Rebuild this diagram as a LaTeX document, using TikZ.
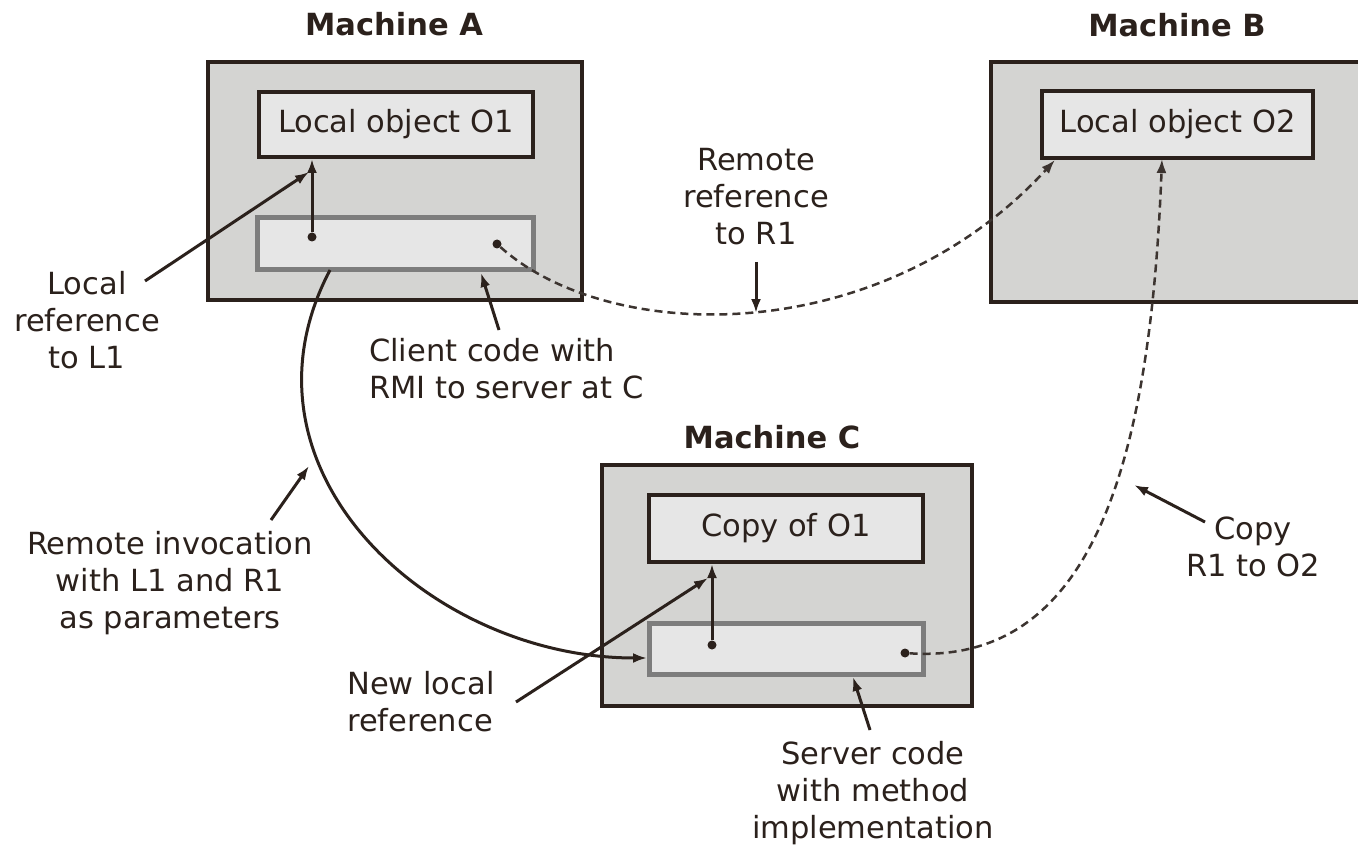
\documentclass[tikz,border=0pt]{standalone}
\usepackage{fontspec}
\setmainfont{DejaVu Sans}
\usetikzlibrary{arrows.meta}

\definecolor{ink}{RGB}{43,33,28}
\definecolor{dashink}{RGB}{60,52,48}
\definecolor{outerfill}{RGB}{212,212,210}
\definecolor{innerfill}{RGB}{230,230,230}
\definecolor{codeedge}{RGB}{125,125,125}

\tikzset{
  lbl/.style={font=\fontsize{30.5}{37}\selectfont, text=ink, align=center, inner sep=0pt},
  title/.style={font=\bfseries\fontsize{30.5}{37}\selectfont, text=ink, inner sep=0pt},
  machine/.style={draw=ink, line width=4pt, fill=outerfill, inner sep=0pt},
  objbox/.style={draw=ink, line width=4pt, fill=innerfill, inner sep=0pt,
    font=\fontsize{30.5}{37}\selectfont, text=ink},
  codebox/.style={draw=codeedge, line width=5pt, fill=innerfill, inner sep=0pt},
  link/.style={draw=ink, line width=3pt, -{Latex[length=14pt,width=10pt]}},
  remote/.style={draw=dashink, line width=2.5pt, dash pattern=on 8pt off 5pt,
    -{Latex[length=14pt,width=10pt]}},
  dot/.style={circle, fill=ink, inner sep=0pt, minimum size=9pt},
}

\begin{document}
\begin{tikzpicture}[x=1pt,y=-1pt]
\useasboundingbox (0,0) rectangle (1358,845);
\fill[white] (0,0) rectangle (1358,845);
\clip (0,0) rectangle (1358,845);

% machines
\node[machine, minimum width=374pt, minimum height=238pt] (mA) at (395,181) {};
\node[machine, minimum width=440pt, minimum height=240pt] (mB) at (1211,182) {};
\node[machine, minimum width=370pt, minimum height=241pt] (mC) at (787,585.5) {};

% titles
\node[title] (tA) at (394,24) {Machine A};
\node[title] (tB) at (1177,25) {Machine B};
\node[title] (tC) at (772,437) {Machine C};

% objects
\node[objbox, minimum width=274pt, minimum height=65pt] (o1) at (396,124.5) {Local object O1};
\node[objbox, minimum width=271pt, minimum height=67pt] (o2) at (1177.5,124.5) {Local object O2};
\node[objbox, minimum width=274pt, minimum height=67pt] (c1) at (786,528.5) {Copy of O1};

% code blocks
\node[codebox, minimum width=276pt, minimum height=52pt] (cA) at (395,244) {};
\node[codebox, minimum width=274pt, minimum height=51pt] (cC) at (786,648.5) {};

% reference holders
\node[dot] (dA) at (312,237) {};
\node[dot] (rA) at (497,244) {};
\node[dot] (dC) at (712,645) {};
\node[dot] (rC) at (905,653) {};

% labels
\node[lbl] (lblL) at (87,320) {Local\\reference\\to L1};
\node[lbl] (lblR) at (756,197) {Remote\\reference\\to R1};
\node[lbl, align=left, anchor=west] (lblCl) at (369,369) {Client code with\\RMI to server at C};
\node[lbl] (lblInv) at (170,583) {Remote invocation\\with L1 and R1\\as parameters};
\node[lbl, align=left, anchor=west] (lblNew) at (347,702) {New local\\reference};
\node[lbl] (lblSrv) at (873,793) {Server code\\with method\\implementation};
\node[lbl] (lblCopy) at (1253,547) {Copy\\R1 to O2};

% connector end points
\coordinate (lrA) at (145,281);
\coordinate (lrB) at (309,172);
\coordinate (clA) at (499,330);
\coordinate (clB) at (481,273);
\coordinate (rrA) at (756,262);
\coordinate (rrB) at (756,313);
\coordinate (o2inA) at (1055,160);
\coordinate (o2inC) at (1162,159);
\coordinate (aOut) at (330,270);
\coordinate (cIn) at (647,658);
\coordinate (invA) at (271,520);
\coordinate (invB) at (309,466);
\coordinate (nlA) at (516,702);
\coordinate (nlB) at (708,578);
\coordinate (svA) at (870,730);
\coordinate (svB) at (853,677);
\coordinate (cpA) at (1205,522);
\coordinate (cpB) at (1134,485);

% local references
\draw[link] (dA) -- (dA |- o1.south);
\draw[link] (dC) -- (dC |- c1.south);

% remote references
\draw[remote] (rA) .. controls (610,345) and (880,350) .. (o2inA);
\draw[remote] (rC) .. controls (1090,665) and (1150,470) .. (o2inC);

% remote invocation
\draw[link] (aOut) .. controls (225,470) and (430,658) .. (cIn);

% label pointers
\draw[link] (lrA) -- (lrB);
\draw[link] (clA) -- (clB);
\draw[link] (rrA) -- (rrB);
\draw[link] (invA) -- (invB);
\draw[link] (nlA) -- (nlB);
\draw[link] (svA) -- (svB);
\draw[link] (cpA) -- (cpB);
\end{tikzpicture}
\end{document}
